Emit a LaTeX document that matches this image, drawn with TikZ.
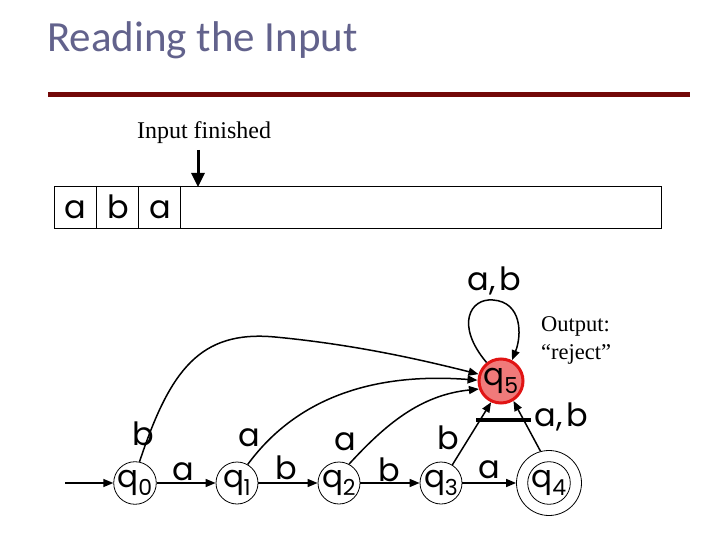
\documentclass[tikz,border=0pt]{standalone}
\usepackage{fontspec}
\setmainfont{Liberation Serif}
\newfontfamily\titlefont{Carlito}
\newfontfamily\fsafont{Poppins}
\usetikzlibrary{arrows.meta}
\definecolor{titlecol}{RGB}{98,98,140}
\definecolor{rulecol}{RGB}{115,8,8}
\definecolor{rejfill}{RGB}{240,122,122}
\definecolor{rejdraw}{RGB}{225,20,20}
\newcommand{\qsub}[1]{q\kern-0.5pt\raisebox{-0.45ex}{\fontsize{22}{22}\selectfont #1}}
\tikzset{
  state/.style={circle, draw, line width=0.8pt, minimum size=42pt, inner sep=0pt,
    font=\fsafont\fontsize{31}{31}\selectfont},
  lab/.style={inner sep=0pt, font=\fsafont\fontsize{32}{32}\selectfont},
  tapelab/.style={inner sep=0pt, font=\fsafont\fontsize{32}{32}\selectfont},
  edge/.style={line width=1.5pt, -{Triangle[length=10pt,width=8pt]}},
  serifT/.style={inner sep=0pt, font=\fontsize{22.5}{28}\selectfont, align=left}
}
\begin{document}
\begin{tikzpicture}[x=1pt,y=-1pt]
\useasboundingbox (0,0) rectangle (720,540);
% title
\node[anchor=base west, inner sep=0pt, text=titlecol, font=\titlefont\fontsize{43}{43}\selectfont] (title) at (47,52) {Reading the Input};
\draw[rulecol, line width=5pt] (48,95) -- (690,95);
% tape
\node[inner sep=0pt, font=\fontsize{24}{24}\selectfont] (fin) at (204,133) {Input finished};
\coordinate (arrtop) at (198,150);
\coordinate (arrbot) at (198,187);
\draw[line width=3pt, -{Triangle[length=14pt,width=13pt]}] (arrtop) -- (arrbot);
\draw[line width=0.8pt] (54,186) rectangle (661,228);
\draw[line width=0.8pt] (96,186) -- (96,228) (138,186) -- (138,228) (180,186) -- (180,228);
\node[tapelab] (t1) at (75,210) {a};
\node[tapelab] (t2) at (118,207) {b};
\node[tapelab] (t3) at (160,210) {a};
% states
\node[state] (q0) at (135,483) {\qsub{0}};
\node[state] (q1) at (237,483) {\qsub{1}};
\node[state] (q2) at (339,483) {\qsub{2}};
\node[state] (q3) at (441,483) {\qsub{3}};
\node[circle, draw, line width=0.8pt, minimum size=65pt, inner sep=0pt] (q4) at (549,483) {};
\node[state, minimum size=35pt] (q4in) at (549,483) {\qsub{4}};
\node[state, fill=rejfill, draw=rejdraw, line width=3pt, minimum size=44pt] (q5) at (501,381) {\qsub{5}};
% start arrow
\coordinate (start) at (65,483);
\draw[edge] (start) -- (q0);
% chain
\draw[edge] (q0) -- (q1);
\draw[edge] (q1) -- (q2);
\draw[edge] (q2) -- (q3);
\draw[edge] (q3) -- (q4);
\node[lab] (l01) at (183,472) {a};
\node[lab] (l12) at (286,468) {b};
\node[lab] (l23) at (389,470) {b};
\node[lab] (l34) at (489,470) {a};
% edges to q5
\draw[edge] (q0.78) .. controls (170,370) and (200,330) .. (275,337) .. controls (360,345) and (430,362) .. (q5.163);
\draw[edge] (q1.60) .. controls (295,400) and (370,372) .. (q5.178);
\draw[edge] (q2.62) .. controls (385,425) and (420,395) .. (q5.200);
\draw[edge] (q3.58) -- (q5.245);
\draw[edge] (q4.105) -- (q5.302);
\node[lab] (lb0) at (143,434) {b};
\node[lab] (la1) at (249,438) {a};
\node[lab] (la2) at (345,442) {a};
\node[lab] (lb3) at (448,438) {b};
\node[lab] (lab4) at (561,417) {a\kern1pt,\kern3pt b};
\coordinate (barL) at (476,420);
\coordinate (barR) at (531,420);
\draw[line width=4pt] (barL) -- (barR);
% self loop
\draw[edge] (q5.128) .. controls (455,325) and (470,298) .. (493,300) .. controls (522,302) and (522,335) .. (q5.62);
\node[lab] (lloop) at (494,281) {a\kern1pt,\kern3pt b};
% output
\node[serifT, anchor=west] (out) at (541,340) {Output:\\``reject''};
\end{tikzpicture}
\end{document}
